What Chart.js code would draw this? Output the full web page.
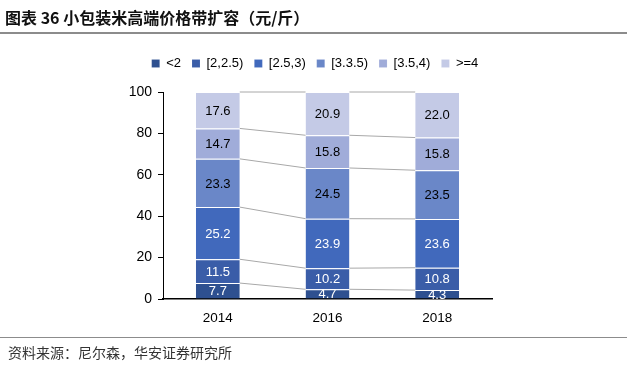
<!DOCTYPE html>
<html>
<head>
<meta charset="utf-8">
<script src="https://cdn.jsdelivr.net/npm/chart.js@4"></script>
<style>
  html, body { margin: 0; padding: 0; background: #fff; }
  #wrap { position: relative; width: 627px; height: 365px; overflow: hidden; }
  #title {
    position: absolute; left: 5px; top: 5px;
    font: bold 16px "Noto Sans CJK SC", sans-serif; color: #111;
  }
  #topline { position: absolute; left: 0; top: 32px; width: 627px; height: 2px; background: #8c8c8c; }
  #botline { position: absolute; left: 0; top: 337px; width: 627px; height: 1px; background: #8c8c8c; }
  #source {
    position: absolute; left: 8px; top: 342px;
    font: 14px "Noto Sans CJK SC", sans-serif; color: #333;
  }
  canvas { position: absolute; left: 0; top: 0; }
</style>
</head>
<body>
<div id="wrap">
  <canvas id="chart" width="627" height="365"></canvas>
  <div id="title">图表 36 小包装米高端价格带扩容（元/斤）</div>
  <div id="topline"></div>
  <div id="botline"></div>
  <div id="source">资料来源：尼尔森，华安证券研究所</div>
</div>
<script>
document.addEventListener('DOMContentLoaded', () => {
    // 数据
    const years = ['2014', '2016', '2018'];
    const seriesNames = ['<2', '[2,2.5)', '[2.5,3)', '[3.3.5)', '[3.5,4)', '>=4'];
    const lt2 = [7.7, 4.7, 4.3];
    const p2to25 = [11.5, 10.2, 10.8];
    const p25to3 = [25.2, 23.9, 23.6];
    const p3to35 = [23.3, 24.5, 23.5];
    const p35to4 = [14.7, 15.8, 15.8];
    const ge4 = [17.6, 20.9, 22.0];
    const yTicks = [0, 20, 40, 60, 80, 100];

    const colors = ['#2E5090', '#3A5DA8', '#4169BC', '#6A87C8', '#A0ACD9', '#C4CAE6'];
    const labelColors = ['#fff', '#fff', '#fff', '#000', '#000', '#000'];
    const allSeries = [lt2, p2to25, p25to3, p3to35, p35to4, ge4];

    // 柱子之间的连接线
    const connectorPlugin = {
        id: 'connectors',
        beforeDatasetsDraw(chart) {
            const ctx = chart.ctx;
            ctx.save();
            ctx.strokeStyle = '#a8a8a8';
            ctx.lineWidth = 1;
            chart.data.datasets.forEach((ds, i) => {
                const bars = chart.getDatasetMeta(i).data;
                for (let j = 0; j < bars.length - 1; j++) {
                    const a = bars[j], b = bars[j + 1];
                    ctx.beginPath();
                    ctx.moveTo(a.x + a.width / 2, a.y);
                    ctx.lineTo(b.x - b.width / 2, b.y);
                    ctx.stroke();
                }
            });
            ctx.restore();
        }
    };

    // 数据标签
    const labelPlugin = {
        id: 'barLabels',
        afterDatasetsDraw(chart) {
            const ctx = chart.ctx;
            ctx.save();
            ctx.font = '13px "Liberation Sans", Arial, sans-serif';
            ctx.textAlign = 'center';
            ctx.textBaseline = 'middle';
            chart.data.datasets.forEach((ds, i) => {
                chart.getDatasetMeta(i).data.forEach((bar, j) => {
                    ctx.fillStyle = labelColors[i];
                    ctx.fillText(ds.data[j].toFixed(1), bar.x, (bar.y + bar.base) / 2 + 1);
                });
            });
            ctx.restore();
        }
    };

    // 图例右移
    const legendShift = {
        id: 'legendShift',
        afterLayout(chart) {
            if (chart.legend) {
                chart.legend.left += 19;
                chart.legend.right += 19;
            }
        }
    };

    const ctx = document.getElementById('chart').getContext('2d');
    const chart = new Chart(ctx, {
        type: 'bar',
        data: {
            labels: years,
            datasets: allSeries.map((d, i) => ({
                label: seriesNames[i],
                data: d,
                backgroundColor: colors[i],
                borderColor: 'rgba(255,255,255,0.45)',
                borderWidth: { top: 1, bottom: 0, left: 0, right: 0 },
                borderSkipped: false,
                categoryPercentage: 1,
                barPercentage: 0.4
            }))
        },
        options: {
            responsive: false,
            animation: false,
            layout: { padding: { left: 100, right: 135, top: 46, bottom: 36 } },
            scales: {
                x: {
                    stacked: true,
                    grid: { display: false, drawTicks: false },
                    border: { display: true, color: '#000', width: 1.5 },
                    ticks: { color: '#000', padding: 11, font: { size: 13.5, family: '"Liberation Sans", Arial, sans-serif' } },
                    afterFit: (s) => { s.height = 30; }
                },
                y: {
                    stacked: true,
                    min: 0,
                    max: 100,
                    afterBuildTicks: (s) => { s.ticks = yTicks.map(v => ({ value: v })); },
                    grid: { display: true, drawOnChartArea: false, tickLength: 5, color: '#000' },
                    border: { display: true, color: '#000', width: 1 },
                    ticks: { color: '#000', padding: 6, font: { size: 14, family: '"Liberation Sans", Arial, sans-serif' } },
                    afterFit: (s) => { s.width = 63; }
                }
            },
            plugins: {
                legend: {
                    position: 'top',
                    labels: {
                        boxWidth: 8,
                        boxHeight: 8,
                        padding: 11,
                        color: '#000',
                        font: { size: 13, family: '"Liberation Sans", Arial, sans-serif' }
                    }
                },
                tooltip: { enabled: false }
            }
        },
        plugins: [connectorPlugin, labelPlugin, legendShift]
    });

    // 图例下方留白
    const origFit = chart.legend.fit;
    chart.legend.fit = function () {
        origFit.call(this);
        this.height += 12;
    };
    chart.update();
});
</script>
</body>
</html>
